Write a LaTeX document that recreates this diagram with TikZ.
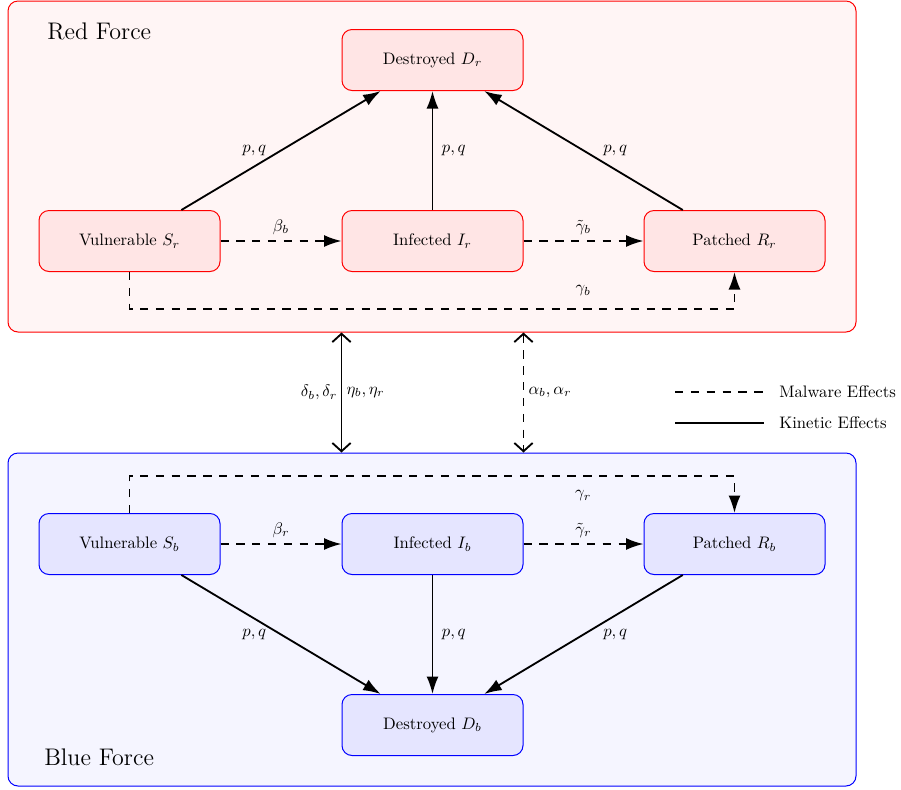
\documentclass[tikz,border=0pt]{standalone}
\usetikzlibrary{arrows.meta}
\begin{document}
\begin{tikzpicture}[x=0.6pt,y=-0.6pt,
  state/.style={draw, rounded corners=6pt, line width=0.6pt, minimum width=108.6pt, minimum height=36.6pt, inner sep=0pt},
  redstate/.style={state, draw=red, fill=red!10},
  bluestate/.style={state, draw=blue, fill=blue!10},
  force/.style={rounded corners=6pt, line width=0.6pt, minimum width=508.8pt, inner sep=0pt},
  kin/.style={line width=1.1pt, -{Latex[length=10.5pt,width=7.2pt]}},
  maldash/.style={line width=1.1pt, dash pattern=on 5pt off 4.5pt},
  mal/.style={maldash, -{Latex[length=10.5pt,width=7.2pt]}},
  barbs/.style={line width=1.1pt, {Straight Barb[length=5pt,width=11pt]}-{Straight Barb[length=5pt,width=11pt]}}
]
\useasboundingbox (0,0) rectangle (901,789);
\fill[white] (0,0) rectangle (901,789);

% force boxes
\node[force, draw=red, fill=red!4, minimum height=198.6pt] (redbox) at (432,166.5) {};
\node[force, draw=blue, fill=blue!4, minimum height=199.8pt] (bluebox) at (432,619.5) {};
\node[anchor=west, inner sep=0pt, font=\Large] (redlabel) at (47,31) {Red Force};
\node[anchor=west, inner sep=0pt, font=\Large] (bluelabel) at (44,757) {Blue Force};

% red states
\node[redstate] (Dr) at (432.5,60) {Destroyed $D_r$};
\node[redstate] (Sr) at (129.5,241) {Vulnerable $S_r$};
\node[redstate] (Ir) at (432.5,241) {Infected $I_r$};
\node[redstate] (Rr) at (734.5,241) {Patched $R_r$};

% blue states
\node[bluestate] (Sb) at (129.5,544) {Vulnerable $S_b$};
\node[bluestate] (Ib) at (432.5,544) {Infected $I_b$};
\node[bluestate] (Rb) at (734.5,544) {Patched $R_b$};
\node[bluestate] (Db) at (432.5,725) {Destroyed $D_b$};

% red edges
\draw[kin] (Sr) -- node[midway,left=5pt]{$p,q$} (Dr);
\draw[kin] (Ir) -- node[midway,right=1.8pt]{$p,q$} (Dr);
\draw[kin] (Rr) -- node[midway,right=8pt]{$p,q$} (Dr);
\draw[mal] (Sr) -- node[above]{$\beta_b$} (Ir);
\draw[mal] (Ir) -- node[above]{$\tilde{\gamma}_b$} (Rr);
\draw[mal] (Sr.south) -- ++(0,37) -| node[pos=0.375, above=4pt]{$\gamma_b$} (Rr.south);

% blue edges
\draw[kin] (Sb) -- node[midway,left=5pt]{$p,q$} (Db);
\draw[kin] (Ib) -- node[midway,right=1.8pt]{$p,q$} (Db);
\draw[kin] (Rb) -- node[midway,right=8pt]{$p,q$} (Db);
\draw[mal] (Sb) -- node[above]{$\beta_r$} (Ib);
\draw[mal] (Ib) -- node[above]{$\tilde{\gamma}_r$} (Rb);
\draw[mal] (Sb.north) -- ++(0,-37) -| node[pos=0.375, below=5pt]{$\gamma_r$} (Rb.north);

% inter-force effects
\draw[barbs] (Ir.west |- redbox.south) -- node[left, inner sep=2pt]{$\delta_b,\delta_r$} node[right, inner sep=2.5pt]{$\eta_b,\eta_r$} (Ib.west |- bluebox.north);
\draw[barbs, maldash] (Ir.east |- redbox.south) -- node[right, inner sep=2.5pt]{$\alpha_b,\alpha_r$} (Ib.east |- bluebox.north);

% legend
\coordinate (m1) at (675,392);
\coordinate (m2) at (764,392);
\coordinate (k1) at (675,423);
\coordinate (k2) at (764,423);
\draw[maldash] (m1) -- (m2);
\draw[line width=1.1pt] (k1) -- (k2);
\node[anchor=west, inner sep=0pt] (mtext) at (779,392) {Malware Effects};
\node[anchor=west, inner sep=0pt] (ktext) at (779,423) {Kinetic Effects};
\end{tikzpicture}
\end{document}
